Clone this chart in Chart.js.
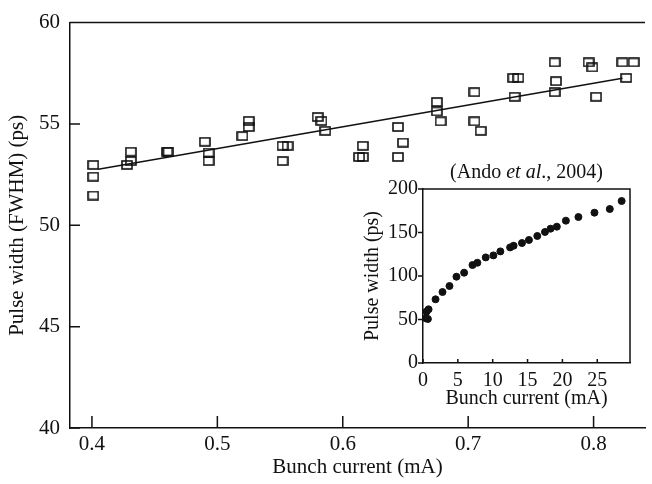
<!DOCTYPE html>
<html>
<head>
<meta charset="utf-8">
<script src="https://cdn.jsdelivr.net/npm/chart.js@4"></script>
<style>
  html, body { margin: 0; padding: 0; background: #fff; }
  #wrap { position: relative; width: 652px; height: 484px; }
  #mainChart { position: absolute; left: 0; top: 0; }
  #insetChart { position: absolute; left: 340px; top: 160px; }
</style>
</head>
<body>
<div id="wrap">
  <canvas id="mainChart" width="652" height="484"></canvas>
  <canvas id="insetChart" width="300" height="252"></canvas>
</div>
<script>
// main panel: measured pulse widths (open squares)
const mainCurrent = [
  0.401, 0.401, 0.401,
  0.428, 0.431, 0.431,
  0.460, 0.461,
  0.490, 0.493, 0.493,
  0.520, 0.525, 0.525,
  0.552, 0.556, 0.552,
  0.580, 0.583, 0.586,
  0.613, 0.616, 0.616,
  0.644, 0.648, 0.644,
  0.675, 0.675, 0.678,
  0.705, 0.705, 0.710,
  0.736, 0.740, 0.737,
  0.769, 0.770, 0.769,
  0.796, 0.799, 0.802,
  0.823, 0.832, 0.826
];
const mainWidth = [
  52.98, 52.40, 51.47,
  52.98, 53.17, 53.63,
  53.63, 53.63,
  54.12, 53.59, 53.17,
  54.40, 54.85, 55.15,
  53.92, 53.92, 53.17,
  55.34, 55.15, 54.66,
  53.37, 53.92, 53.37,
  54.85, 54.08, 53.37,
  56.08, 55.62, 55.13,
  56.57, 55.13, 54.66,
  57.27, 57.27, 56.34,
  58.04, 57.11, 56.57,
  58.04, 57.79, 56.34,
  58.04, 58.04, 57.27
];
// linear fit line
const fitCurrent = [0.405, 0.823];
const fitWidth = [52.76, 57.25];

// inset: Ando et al., 2004 (filled circles)
const insetCurrent = [0.4, 0.7, 0.5, 0.8, 1.8, 2.8, 3.8, 4.8, 5.9, 7.1, 7.8, 9.0, 10.1, 11.1,
  12.5, 13.0, 14.2, 15.2, 16.4, 17.5, 18.3, 19.2, 20.5, 22.3, 24.6, 26.8, 28.5];
const insetWidth = [51.4, 50.6, 59.0, 61.7, 73.2, 81.6, 88.5, 99.2, 103.8, 112.6, 115.2, 121.4, 123.7, 128.3,
  132.9, 134.8, 137.9, 141.4, 146.0, 150.6, 154.4, 156.7, 163.6, 167.8, 172.8, 177.0, 186.2];

const serif = 'Liberation Serif';
const ink = '#111';

// open square marker, slightly wider than tall
const sq = document.createElement('canvas');
sq.width = 12; sq.height = 10;
const sctx = sq.getContext('2d');
sctx.strokeStyle = ink; sctx.lineWidth = 1.6;
sctx.strokeRect(1, 1, 10, 8);

const pts = (xs, ys) => xs.map((x, i) => ({ x, y: ys[i] }));
const noGrid = { display: false, drawTicks: false, tickLength: 0 };

// top line / box and ticks drawn on the chart area
const frame = {
  id: 'frame',
  afterDraw(chart, args, o) {
    const { ctx, chartArea: a, scales } = chart;
    ctx.save();
    ctx.strokeStyle = ink;
    ctx.lineWidth = 1.5;
    ctx.beginPath();
    ctx.moveTo(a.left, a.top); ctx.lineTo(a.right, a.top);
    if (o.box) { ctx.lineTo(a.right, a.bottom); }
    scales.x.ticks.forEach(t => {
      const px = scales.x.getPixelForValue(t.value);
      ctx.moveTo(px, a.bottom); ctx.lineTo(px, a.bottom - o.xTick);
    });
    scales.y.ticks.forEach(t => {
      const py = scales.y.getPixelForValue(t.value);
      ctx.moveTo(a.left, py); ctx.lineTo(a.left + o.yTick, py);
    });
    ctx.stroke();
    ctx.restore();
  }
};

new Chart(document.getElementById('mainChart'), {
  type: 'scatter',
  data: {
    datasets: [{
      data: pts(mainCurrent, mainWidth),
      pointStyle: sq,
      pointRadius: 6
    }, {
      type: 'line',
      data: pts(fitCurrent, fitWidth),
      borderColor: ink,
      borderWidth: 1.5,
      pointRadius: 0
    }]
  },
  options: {
    responsive: false,
    animation: false,
    layout: { padding: { top: 20, right: 0, left: 0, bottom: 0 } },
    plugins: {
      legend: { display: false },
      tooltip: { enabled: false },
      frame: { xTick: 12, yTick: 10, box: false }
    },
    scales: {
      x: {
        type: 'linear', min: 0.3825, max: 0.841,
        grid: noGrid,
        border: { color: ink, width: 1.5 },
        ticks: { stepSize: 0.1, includeBounds: false, padding: 4, color: ink,
          font: { family: serif, size: 21 }, callback: v => v.toFixed(1) },
        title: { display: true, text: 'Bunch current (mA)', color: ink,
          font: { family: serif, size: 21 }, padding: { top: 0, bottom: 4 } },
        afterFit: s => { s.height = 56; }
      },
      y: {
        min: 40, max: 60,
        grid: noGrid,
        border: { color: ink, width: 1.5 },
        ticks: { stepSize: 5, padding: 10, color: ink, font: { family: serif, size: 21 } },
        title: { display: true, text: 'Pulse width (FWHM) (ps)', color: ink,
          font: { family: serif, size: 21 }, padding: { top: 5, bottom: 0 } },
        afterFit: s => { s.width = 70; }
      }
    }
  },
  plugins: [frame]
});

// inset title with italic "et al."
const insetTitle = {
  id: 'insetTitle',
  afterDraw(chart) {
    const { ctx, chartArea: a } = chart;
    const parts = [['(Ando ', ''], ['et al', 'italic '], ['., 2004)', '']];
    ctx.save();
    ctx.fillStyle = ink;
    ctx.textBaseline = 'middle';
    let total = 0;
    parts.forEach(p => { ctx.font = p[1] + '20px ' + serif; total += ctx.measureText(p[0]).width; });
    let x = (a.left + a.right) / 2 - total / 2;
    parts.forEach(p => {
      ctx.font = p[1] + '20px ' + serif;
      ctx.fillText(p[0], x, 13);
      x += ctx.measureText(p[0]).width;
    });
    ctx.restore();
  }
};

new Chart(document.getElementById('insetChart'), {
  type: 'scatter',
  data: {
    datasets: [{
      data: pts(insetCurrent, insetWidth),
      backgroundColor: ink,
      borderColor: ink,
      pointRadius: 3.5
    }]
  },
  options: {
    responsive: false,
    animation: false,
    layout: { padding: { top: 29, right: 10, left: 0, bottom: 0 } },
    plugins: {
      legend: { display: false },
      tooltip: { enabled: false },
      frame: { xTick: 4, yTick: -5, box: true }
    },
    scales: {
      x: {
        type: 'linear', min: 0, max: 29.7,
        grid: noGrid,
        border: { color: ink, width: 1.5 },
        ticks: { stepSize: 5, includeBounds: false, padding: 6, color: ink,
          font: { family: serif, size: 20 } },
        title: { display: true, text: 'Bunch current (mA)', color: ink,
          font: { family: serif, size: 20 }, padding: { top: 0, bottom: 1 } },
        afterFit: s => { s.height = 49; }
      },
      y: {
        min: 0, max: 200,
        grid: noGrid,
        border: { color: ink, width: 1.5 },
        ticks: { stepSize: 50, padding: 5, color: ink, font: { family: serif, size: 20 } },
        title: { display: true, text: 'Pulse width (ps)', color: ink,
          font: { family: serif, size: 20 }, padding: { top: 21, bottom: 0 } },
        afterFit: s => { s.width = 83; }
      }
    }
  },
  plugins: [frame, insetTitle]
});
</script>
</body>
</html>
